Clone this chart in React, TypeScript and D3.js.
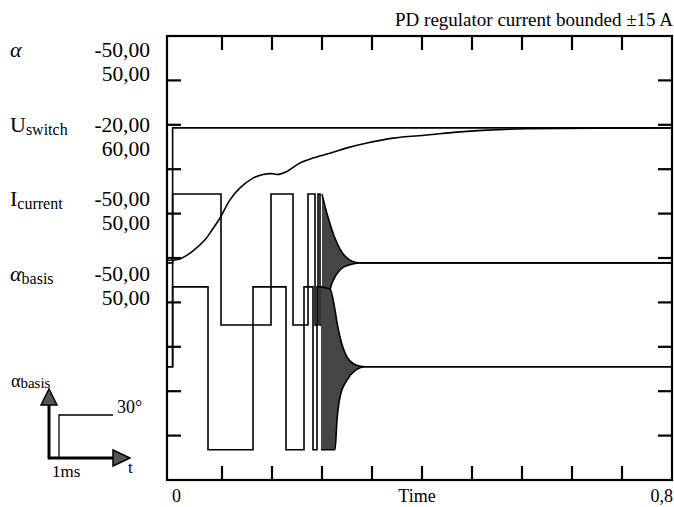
import React from "react";
import * as d3 from "d3";

const width = 674;
const height = 507;
const font = "'Liberation Serif', 'Times New Roman', serif";

// axes: time in s, vertical in screen divisions (10 divisions)
const timeDomain = [0, 0.8];
const tStart = -0.008;
const divDomain = [0, 10];
const xTicks = [0.08, 0.16, 0.24, 0.32, 0.4, 0.48, 0.56, 0.64, 0.72];
const yTicks = [1, 2, 3, 4, 5, 6, 7, 8, 9];

const title = "PD regulator current bounded ±15 A";
const channelNames = ["α", "U", "I", "α"];
const channelSubs = ["", "switch", "current", "basis"];
const channelItalic = [true, false, false, true];
const rangeLow = ["-50,00", "-20,00", "-50,00", "-50,00"];
const rangeHigh = ["50,00", "60,00", "50,00", "50,00"];

// step signals: [time, level] -> level holds until next time
const alphaSteps: [number, number][] = [
  [-0.008, 2.55],
  [0.001, 7.93],
  [0.8, 7.93],
];
const iCurrentSteps: [number, number][] = [
  [-0.008, 4.89],
  [0.001, 6.44],
  [0.0784, 3.49],
  [0.1584, 6.44],
  [0.1936, 3.49],
  [0.2176, 6.44],
  [0.2288, 3.49],
  [0.2336, 6.44],
  [0.2368, 3.49],
  [0.24, 3.49],
];
const alphaBasisSteps: [number, number][] = [
  [-0.008, 2.55],
  [0.001, 4.35],
  [0.0576, 0.68],
  [0.1296, 4.35],
  [0.1824, 0.68],
  [0.2112, 4.35],
  [0.2256, 0.68],
  [0.232, 4.35],
  [0.2384, 4.35],
];

// U_switch smooth rise
const uSwitch: [number, number][] = [
  [-0.008, 4.95], [0.0128, 4.98], [0.0336, 5.16], [0.0528, 5.41], [0.064, 5.63],
  [0.0768, 5.9], [0.0928, 6.31], [0.1088, 6.58], [0.1296, 6.8], [0.1456, 6.88],
  [0.16, 6.9], [0.168, 6.88], [0.184, 6.95], [0.2048, 7.14], [0.2256, 7.25],
  [0.2528, 7.36], [0.28, 7.48], [0.312, 7.59], [0.3536, 7.7], [0.408, 7.77],
  [0.4608, 7.84], [0.504, 7.88], [0.568, 7.91], [0.8, 7.93],
];

// oscillation envelopes: time, upper, lower
const iEnvT = [0.24, 0.2464, 0.2528, 0.2592, 0.2688, 0.2784, 0.288, 0.3008, 0.8];
const iEnvHi = [6.44, 6.08, 5.77, 5.5, 5.2, 5.02, 4.93, 4.89, 4.89];
const iEnvLo = [3.49, 3.65, 4.28, 4.53, 4.73, 4.82, 4.86, 4.89, 4.89];

const aEnvT = [0.2384, 0.2528, 0.2608, 0.264, 0.2688, 0.28, 0.2944, 0.3088, 0.8];
const aEnvHi = [4.35, 4.3, 3.83, 3.55, 3.22, 2.77, 2.59, 2.55, 2.55];
const aEnvLo = [0.68, 0.68, 0.68, 1.35, 1.87, 2.25, 2.48, 2.55, 2.55];

const App = () => {
  const x = d3.scaleLinear().domain(timeDomain).range([172, 672]);
  const y = d3.scaleLinear().domain(divDomain).range([480, 36]);
  const left = x(tStart);
  const right = x(timeDomain[1]);
  const top = y(divDomain[1]);
  const bottom = y(divDomain[0]);
  const tickLen = 14;

  const step = d3
    .line<[number, number]>()
    .x((d) => x(d[0]))
    .y((d) => y(d[1]))
    .curve(d3.curveStepAfter);
  const smooth = d3
    .line<[number, number]>()
    .x((d) => x(d[0]))
    .y((d) => y(d[1]))
    .curve(d3.curveCatmullRom);

  const envelope = (ts: number[], hi: number[], lo: number[]) => {
    const pts = ts.map((t, i) => ({ t, hi: hi[i], lo: lo[i] }));
    const area = d3
      .area<{ t: number; hi: number; lo: number }>()
      .x((d) => x(d.t))
      .y0((d) => y(d.lo))
      .y1((d) => y(d.hi))
      .curve(d3.curveMonotoneX);
    const edge = (k: "hi" | "lo") =>
      d3
        .line<{ t: number; hi: number; lo: number }>()
        .x((d) => x(d.t))
        .y((d) => y(d[k]))
        .curve(d3.curveMonotoneX)(pts) || "";
    return (
      <g>
        <path d={area(pts) || ""} fill="#454545" stroke="none" />
        <path d={edge("hi")} fill="none" stroke="#000" strokeWidth={1.6} />
        <path d={edge("lo")} fill="none" stroke="#000" strokeWidth={1.6} />
      </g>
    );
  };

  const labelY0 = 57;
  const labelGap = 74.7;

  return (
    <svg
      width={width}
      height={height}
      style={{ position: "absolute", left: 0, top: 0, background: "#fff" }}
      fontFamily={font}
    >
      <text x={673} y={26} fontSize={19} textAnchor="end">
        {title}
      </text>

      {/* channel labels */}
      {channelNames.map((n, i) => {
        const by = labelY0 + i * labelGap;
        return (
          <g key={i}>
            <text x={10} y={by} fontSize={22} fontStyle={channelItalic[i] ? "italic" : "normal"}>
              {n}
              {channelSubs[i] && (
                <tspan fontSize={16} fontStyle="normal" dy={3}>
                  {channelSubs[i]}
                </tspan>
              )}
            </text>
            <text x={150} y={by} fontSize={21.5} textAnchor="end">
              {rangeLow[i]}
            </text>
            <text x={150} y={by + 24} fontSize={21.5} textAnchor="end">
              {rangeHigh[i]}
            </text>
          </g>
        );
      })}

      {/* traces */}
      <path d={step(alphaSteps) || ""} fill="none" stroke="#000" strokeWidth={1.6} />
      <path d={smooth(uSwitch) || ""} fill="none" stroke="#000" strokeWidth={1.6} />
      <path d={step(iCurrentSteps) || ""} fill="none" stroke="#000" strokeWidth={1.6} />
      <path d={step(alphaBasisSteps) || ""} fill="none" stroke="#000" strokeWidth={1.6} />
      {envelope(iEnvT, iEnvHi, iEnvLo)}
      {envelope(aEnvT, aEnvHi, aEnvLo)}

      {/* frame and inward ticks */}
      <rect
        x={left}
        y={top}
        width={right - left}
        height={bottom - top}
        fill="none"
        stroke="#000"
        strokeWidth={2.2}
      />
      {xTicks.map((t) => (
        <g key={"x" + t} stroke="#000" strokeWidth={2.2}>
          <line x1={x(t)} x2={x(t)} y1={top} y2={top + tickLen} />
          <line x1={x(t)} x2={x(t)} y1={bottom} y2={bottom - tickLen} />
        </g>
      ))}
      {yTicks.map((v) => (
        <g key={"y" + v} stroke="#000" strokeWidth={2.2}>
          <line x1={left} x2={left + tickLen} y1={y(v)} y2={y(v)} />
          <line x1={right} x2={right - tickLen} y1={y(v)} y2={y(v)} />
        </g>
      ))}

      <text x={x(0)} y={502} fontSize={18}>
        0
      </text>
      <text x={x(0.392)} y={502} fontSize={18} textAnchor="middle">
        Time
      </text>
      <text x={673} y={502} fontSize={18} textAnchor="end">
        0,8
      </text>

      {/* inset: basis step legend */}
      <g>
        <text x={11} y={387} fontSize={18}>
          α<tspan fontSize={15} dy={1}>basis</tspan>
        </text>
        <line x1={49} y1={459} x2={49} y2={402} stroke="#000" strokeWidth={3} />
        <path d="M41,405 L49,389 L57,405 Z" fill="#555" stroke="#000" strokeWidth={1.5} />
        <line x1={48} y1={458} x2={115} y2={458} stroke="#000" strokeWidth={3} />
        <path d="M113,450 L130,458 L113,466 Z" fill="#555" stroke="#000" strokeWidth={1.5} />
        <path d="M59,458 V415 H113" fill="none" stroke="#000" strokeWidth={1.3} />
        <text x={117} y={413} fontSize={18}>
          30°
        </text>
        <text x={52} y={477} fontSize={17}>
          1ms
        </text>
        <text x={128} y={473} fontSize={17}>
          t
        </text>
      </g>
    </svg>
  );
};

export default App;
